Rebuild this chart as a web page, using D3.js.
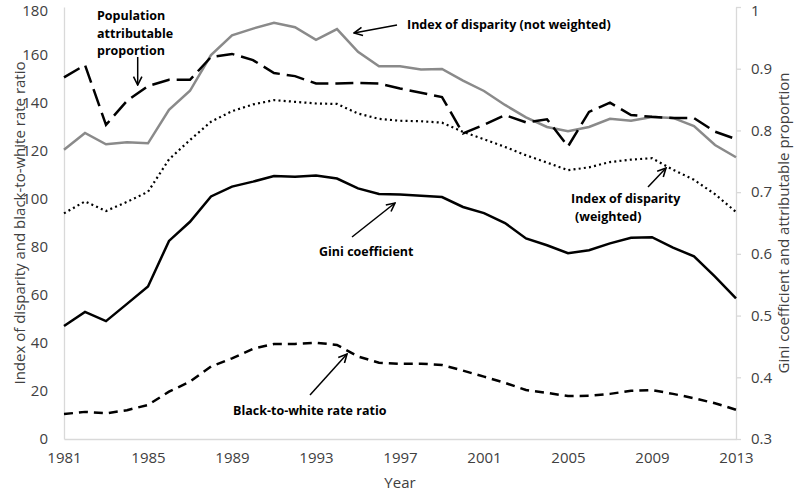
<!DOCTYPE html>
<meta charset="utf-8">
<script src="https://d3js.org/d3.v7.min.js"></script>
<style>
  body { margin: 0; background: #fff; }
  text { font-family: "Open Sans", sans-serif; }
  .axis text { fill: #404040; font-size: 15px; }
  .axis .domain, .axis line { stroke: #d9d9d9; stroke-width: 1.3; }
  .note { font-weight: bold; font-size: 12.5px; fill: #000; }
</style>
<div id="chart"></div>
<script>
// years 1981..2013
const years = d3.range(1981, 2014);

// left axis series
const idxNotWeighted = [120.5, 127.5, 122.8, 123.6, 123.2, 137.2, 145.1, 160, 168.2, 171, 173.4, 171.6, 166.3, 170.8, 161.3, 155.3,
  155.3, 154, 154.2, 149.3, 145, 139.2, 134, 130, 128.2, 130, 133.4, 132.6, 134.2, 133.8, 130.4, 122.5, 117.4];
const idxWeighted = [94, 99, 95, 98.8, 103, 116.5, 124.6, 132.2, 136.6, 139.4, 141.2, 140.5, 139.8, 139.6, 135.6, 133.4,
  132.6, 132.4, 131.8, 128, 124.9, 121.7, 118.2, 115.2, 112, 113.2, 115.4, 116.4, 117, 112.2, 108, 102, 94.6];
const blackWhite = [10.4, 11.3, 10.7, 12, 14.2, 19.7, 23.9, 30.2, 33.6, 37.6, 39.6, 39.6, 40.1, 39.2, 34.4, 31.8,
  31.3, 31.4, 30.8, 28.5, 26, 23.4, 20.4, 19.2, 17.9, 18, 18.8, 20.1, 20.4, 18.8, 17, 14.9, 12.2];

// right axis series
const gini = [0.483, 0.506, 0.491, 0.519, 0.547, 0.621, 0.652, 0.693, 0.709, 0.717, 0.726, 0.725, 0.727, 0.722, 0.706, 0.697,
  0.696, 0.694, 0.692, 0.676, 0.666, 0.650, 0.625, 0.614, 0.601, 0.606, 0.617, 0.626, 0.627, 0.610, 0.596, 0.563, 0.528];
const pap = [0.886, 0.906, 0.809, 0.848, 0.872, 0.882, 0.882, 0.919, 0.924, 0.914, 0.893, 0.888, 0.876, 0.876, 0.877, 0.876,
  0.868, 0.861, 0.854, 0.795, 0.809, 0.825, 0.813, 0.818, 0.774, 0.830, 0.845, 0.825, 0.822, 0.820, 0.820, 0.798, 0.786];

const xTicks = [1981, 1985, 1989, 1993, 1997, 2001, 2005, 2009, 2013];
const leftTicks = [0, 20, 40, 60, 80, 100, 120, 140, 160, 180];
const rightTicks = [0.3, 0.4, 0.5, 0.6, 0.7, 0.8, 0.9, 1];

const W = 800, H = 494;
const margin = {top: 7, right: 64, bottom: 55, left: 64};

const svg = d3.select("#chart").append("svg")
  .attr("width", W).attr("height", H);

const x = d3.scaleLinear().domain([1981, 2013]).range([margin.left, W - margin.right]);
const yL = d3.scaleLinear().domain([0, 180]).range([H - margin.bottom, margin.top]);
const yR = d3.scaleLinear().domain([0.3, 1]).range([H - margin.bottom, margin.top]);

// axes
svg.append("g").attr("class", "axis")
  .attr("transform", `translate(0,${H - margin.bottom})`)
  .call(d3.axisBottom(x).tickValues(xTicks).tickFormat(d3.format("d")).tickSize(0).tickPadding(13));

const gl = svg.append("g").attr("class", "axis")
  .attr("transform", `translate(${margin.left},0)`)
  .call(d3.axisLeft(yL).tickValues(leftTicks).tickSize(0).tickPadding(16));

const gr = svg.append("g").attr("class", "axis")
  .attr("transform", `translate(${W - margin.right},0)`)
  .call(d3.axisRight(yR).tickValues(rightTicks).tickFormat(d => d === 1 ? "1" : d3.format(".1f")(d))
    .tickSize(5).tickSizeOuter(0).tickPadding(10));

// keep the top labels inside the picture
gl.selectAll(".tick text").filter(d => d === 180).attr("dy", "0.55em");
gr.selectAll(".tick text").filter(d => d === 1).attr("dy", "0.55em");

// axis titles
svg.append("text")
  .attr("transform", `translate(20,${(margin.top + H - margin.bottom) / 2}) rotate(-90)`)
  .attr("text-anchor", "middle").attr("dy", "0.35em")
  .style("font-size", "15px").style("fill", "#404040")
  .text("Index of disparity and black-to-white rate ratio");

svg.append("text")
  .attr("transform", `translate(784,${(margin.top + H - margin.bottom) / 2}) rotate(-90)`)
  .attr("text-anchor", "middle").attr("dy", "0.35em")
  .style("font-size", "15px").style("fill", "#404040")
  .text("Gini coefficient and attributable proportion");

svg.append("text")
  .attr("x", (margin.left + W - margin.right) / 2).attr("y", 488)
  .attr("text-anchor", "middle")
  .style("font-size", "15px").style("fill", "#404040")
  .text("Year");

// lines
const lineL = d3.line().x((d, i) => x(years[i])).y(d => yL(d));
const lineR = d3.line().x((d, i) => x(years[i])).y(d => yR(d));

svg.append("path").datum(idxNotWeighted).attr("d", lineL)
  .attr("fill", "none").attr("stroke", "#8a8a8a").attr("stroke-width", 2.5);

svg.append("path").datum(idxWeighted).attr("d", lineL)
  .attr("fill", "none").attr("stroke", "#000").attr("stroke-width", 2.2)
  .attr("stroke-dasharray", "2,3.2");

svg.append("path").datum(blackWhite).attr("d", lineL)
  .attr("fill", "none").attr("stroke", "#000").attr("stroke-width", 2.5)
  .attr("stroke-dasharray", "9,6");

svg.append("path").datum(gini).attr("d", lineR)
  .attr("fill", "none").attr("stroke", "#000").attr("stroke-width", 2.5);

svg.append("path").datum(pap).attr("d", lineR)
  .attr("fill", "none").attr("stroke", "#000").attr("stroke-width", 2.5)
  .attr("stroke-dasharray", "18,7");

// annotations
svg.append("defs").append("marker")
  .attr("id", "arr").attr("viewBox", "0 0 10 10")
  .attr("refX", 9).attr("refY", 5)
  .attr("markerWidth", 7).attr("markerHeight", 7)
  .attr("orient", "auto")
  .append("path").attr("d", "M1,1 L9,5 L1,9")
  .attr("fill", "none").attr("stroke", "#000").attr("stroke-width", 1.5);

const notes = [
  {lines: ["Population", "attributable", "proportion"], x: 97, y: 20, arrow: [137.7, 57, 137.7, 85]},
  {lines: ["Index of disparity (not weighted)"], x: 407, y: 29, arrow: [397, 25, 354, 33]},
  {lines: ["Gini coefficient"], x: 319, y: 256, arrow: [352, 237, 395, 203]},
  {lines: ["Black-to-white rate ratio"], x: 233, y: 415, arrow: [310, 395, 347, 354]},
  {lines: ["Index of disparity", "(weighted)"], x: 571, y: 203, arrow: [648, 187, 666, 168]}
];

notes.forEach(n => {
  const t = svg.append("text").attr("class", "note").attr("x", n.x).attr("y", n.y);
  n.lines.forEach((l, i) => {
    t.append("tspan").attr("x", n.x + (n.lines.length > 1 && i === 1 && n.x > 500 ? 4 : 0))
      .attr("dy", i === 0 ? 0 : 17.5).text(l);
  });
  svg.append("line")
    .attr("x1", n.arrow[0]).attr("y1", n.arrow[1])
    .attr("x2", n.arrow[2]).attr("y2", n.arrow[3])
    .attr("stroke", "#000").attr("stroke-width", 1.5)
    .attr("marker-end", "url(#arr)");
});
</script>
